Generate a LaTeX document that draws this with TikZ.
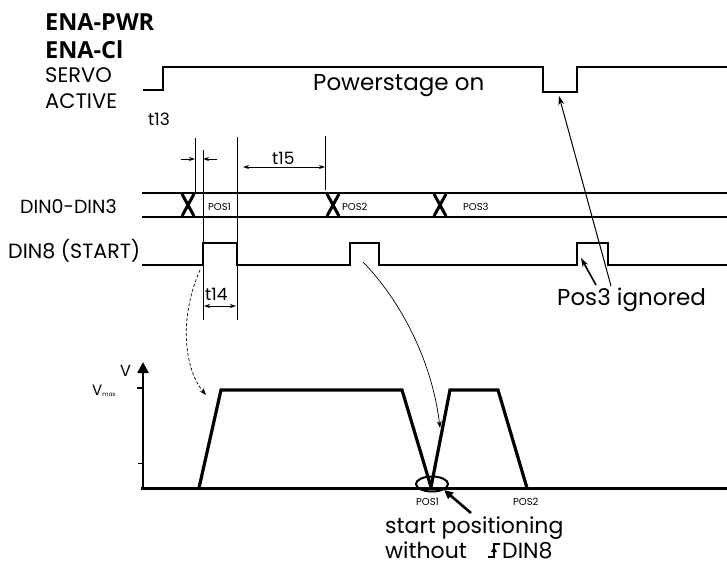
\documentclass[tikz,border=0pt]{standalone}
\usepackage{fontspec}
\setmainfont{Poppins}
\setsansfont{Open Sans}
\usetikzlibrary{arrows.meta,shapes.geometric}
\begin{document}
\begin{tikzpicture}[x=1pt,y=-1pt,
  sig/.style={line width=2.6pt, line join=miter},
  bus/.style={line width=2.6pt},
  xmark/.style={line width=3pt},
  dimline/.style={line width=0.8pt},
  dimarrow/.style={line width=0.8pt, -{Stealth[length=6pt,width=4pt]}},
  lbl/.style={font=\fontsize{21}{21}\selectfont, inner sep=0pt, anchor=base west},
  tlbl/.style={font=\fontsize{17}{17}\selectfont, inner sep=0pt, anchor=base west},
  smalllbl/.style={font=\fontsize{10}{10}\selectfont, inner sep=0pt, anchor=base west},
  boldlbl/.style={font=\sffamily\bfseries\fontsize{23.5}{23.5}\selectfont, inner sep=0pt, anchor=base west},
  prof/.style={line width=3.2pt, line join=miter}
]
\useasboundingbox (0,0) rectangle (727,570);

% labels
\node[boldlbl] (enapwr) at (45,30) {ENA-PWR};
\node[boldlbl] (enacl) at (45,58) {ENA-Cl};
\node[lbl] (servo) at (45,82) {SERVO};
\node[lbl] (active) at (45,108) {ACTIVE};
\node[lbl, font=\fontsize{23}{23}\selectfont] (pson) at (313,90) {Powerstage on};
\node[tlbl] (t13) at (148,125) {t13};
\node[tlbl] (t15) at (272,164) {t15};
\node[tlbl] (t14) at (205,300) {t14};
\node[lbl, font=\fontsize{19}{19}\selectfont] (din03) at (20,213) {DIN0-DIN3};
\node[lbl, font=\fontsize{20.6}{20.6}\selectfont] (din8) at (8,258) {DIN8 (START)};
\node[smalllbl] (pos1a) at (208,210) {POS1};
\node[smalllbl] (pos2a) at (342,210) {POS2};
\node[smalllbl] (pos3a) at (463,210) {POS3};
\node[lbl, font=\fontsize{23}{23}\selectfont] (p3ign) at (557,305) {Pos3 ignored};

% SERVO ACTIVE signal
\draw[sig] (143,90) -- (163,90) -- (163,67) -- (543,67) -- (543,92) -- (577,92) -- (577,67) -- (727,67);

% DIN0-DIN3 bus
\draw[bus] (142,193) -- (727,193);
\draw[bus] (142,217) -- (727,217);
\draw[xmark] (182,194) -- (194,216) (194,194) -- (182,216);
\draw[xmark] (327,194) -- (339,216) (339,194) -- (327,216);
\draw[xmark] (434,194) -- (446,216) (446,194) -- (434,216);

% DIN8 signal
\draw[sig] (142,265) -- (203,265) -- (203,243) -- (237,243) -- (237,265) -- (350,265) -- (350,243) -- (379,243) -- (379,265) -- (577,265) -- (577,243) -- (608,243) -- (608,265) -- (727,265);

% timing dimension lines
\draw[dimline] (195,138) -- (195,193);
\draw[dimline] (203,150) -- (203,320);
\draw[dimline] (237,137) -- (237,320);
\draw[dimline] (325,136) -- (325,190);
\draw[dimarrow] (181,159) -- (195,159);
\draw[dimarrow] (217,159) -- (203,159);
\draw[dimarrow] (282,167) -- (243,167);
\draw[dimarrow] (282,167) -- (325,167);
\draw[dimarrow] (220,306) -- (204,306);
\draw[dimarrow] (220,306) -- (236,306);

% Pos3 ignored arrows
\coordinate (dip) at (559,96);
\coordinate (p3edge) at (581,258);
\coordinate (p3a) at (611,286);
\coordinate (p3b) at (596,285);
\draw[line width=1pt,-{Stealth[length=9pt,width=6pt]}] (p3a) -- (dip);
\draw[line width=1.6pt,-{Stealth[length=9pt,width=6pt]}] (p3b) -- (p3edge);

% velocity diagram
\node[font=\fontsize{16}{16}\selectfont, inner sep=0pt, anchor=base west] (vlab) at (120,376) {V};
\node[font=\fontsize{15}{15}\selectfont, inner sep=0pt, anchor=base west] (vmax) at (92,395) {V\raisebox{-1pt}{\fontsize{6}{6}\selectfont max}};
\draw[line width=2.5pt,-{Triangle[length=11pt,width=11pt]}] (143,490) -- (143,362);
\draw[line width=2pt] (137,388) -- (143,388);
\draw[line width=1pt] (138,463) -- (143,463);
\draw[line width=3pt] (141,488) -- (727,488);
\draw[prof] (199,488) -- (221,390) -- (402,390) -- (431,487);
\draw[prof] (431,487) -- (450,390) -- (498,390) -- (527,488);
\node[draw, ellipse, line width=2pt, minimum width=32pt, minimum height=15pt, inner sep=0pt] (ell) at (432,484) {};
\node[smalllbl] (pos1b) at (416,505) {POS1};
\node[smalllbl] (pos2b) at (513,505) {POS2};
\node[lbl, font=\fontsize{22}{22}\selectfont] (startpos) at (385,533) {start positioning};
\node[lbl, font=\fontsize{22}{22}\selectfont] (without) at (385,558) {without};
\node[lbl, font=\fontsize{22}{22}\selectfont] (din8b) at (502,558) {DIN8};
\draw[line width=2.6pt,-{Triangle[length=9pt,width=8pt]}] (471,513) -- (ell.south east);
% rising edge glyph
\draw[line width=1.5pt] (488,557) -- (494,557) -- (494,544) -- (500,544);
\fill (494,547) -- (491,552) -- (497,552) -- cycle;

% curved arrows
\coordinate (c1s) at (200,270);
\coordinate (c1e) at (206,395);
\coordinate (c2s) at (363,262);
\coordinate (c2e) at (440,428);
\draw[line width=0.7pt, densely dashed, -{Stealth[length=7pt,width=5pt]}] (c1s) .. controls (178,320) and (185,370) .. (c1e);
\draw[line width=0.7pt, -{Stealth[length=7pt,width=5pt]}] (c2s) .. controls (400,300) and (432,360) .. (c2e);
\end{tikzpicture}
\end{document}
